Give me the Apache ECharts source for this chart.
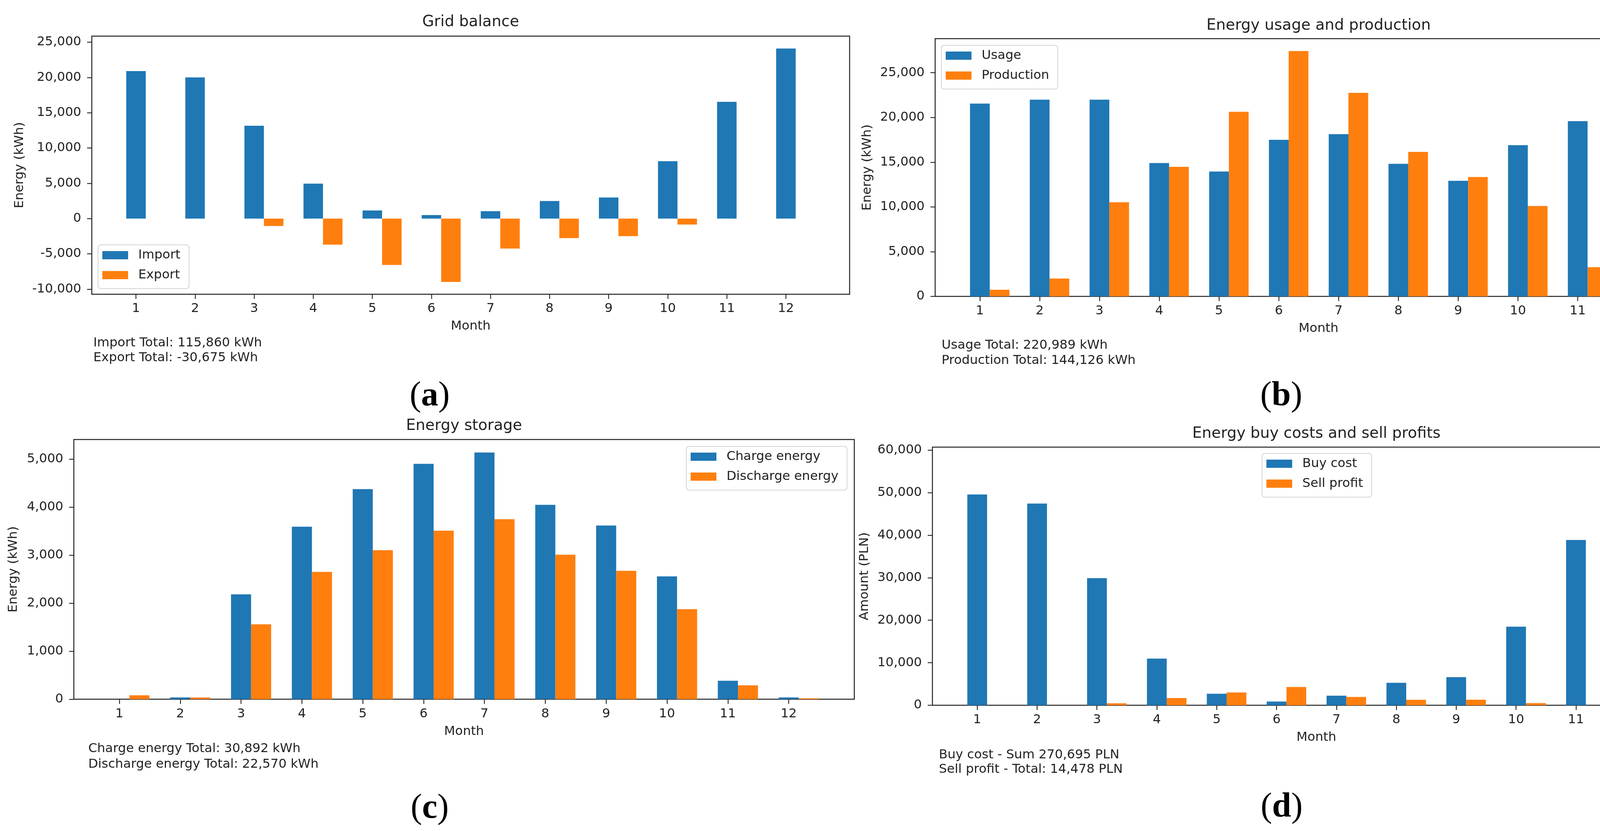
<!DOCTYPE html>
<html>
<head>
<meta charset="utf-8">
<script src="https://cdn.jsdelivr.net/npm/echarts@6/dist/echarts.min.js"></script>
<style>
html,body{margin:0;padding:0;background:#fff;}
#c{width:4393px;height:2128px;}
</style>
</head>
<body>
<div id="c"></div>
<script>
// ---- data ----
const months = [1, 2, 3, 4, 5, 6, 7, 8, 9, 10, 11, 12];
const importData = [20900, 20000, 13150, 4950, 1150, 500, 1050, 2480, 2980, 8130, 16550, 24100];
const exportData = [0, 0, -1050, -3700, -6580, -8980, -4250, -2770, -2500, -845, 0, 0];
const usageData = [21550, 21980, 21980, 14900, 13950, 17500, 18130, 14820, 12920, 16900, 19580, 26780];
const productionData = [740, 2000, 10520, 14480, 20630, 27420, 22750, 16150, 13340, 10100, 3260, 2730];
const chargeData = [0, 38, 2185, 3595, 4378, 4905, 5140, 4050, 3618, 2560, 385, 38];
const dischargeData = [82, 38, 1560, 2652, 3105, 3512, 3752, 3010, 2675, 1875, 289, 20];
const buyCostData = [49570, 47420, 29900, 10970, 2700, 880, 2260, 5290, 6610, 18470, 38860, 57765];
const sellProfitData = [0, 0, 450, 1700, 3000, 4300, 1950, 1280, 1300, 498, 0, 0];

const ticksA = [-10000, -5000, 0, 5000, 10000, 15000, 20000, 25000];
const ticksB = [0, 5000, 10000, 15000, 20000, 25000];
const ticksC = [0, 1000, 2000, 3000, 4000, 5000];
const ticksD = [0, 10000, 20000, 30000, 40000, 50000, 60000];

const titles = ['Grid balance', 'Energy usage and production', 'Energy storage', 'Energy buy costs and sell profits'];
const yNames = ['Energy (kWh)', 'Energy (kWh)', 'Energy (kWh)', 'Amount (PLN)'];
const notes = [
  ['Import Total: 115,860 kWh', 'Export Total: -30,675 kWh'],
  ['Usage Total: 220,989 kWh', 'Production Total: 144,126 kWh'],
  ['Charge energy Total: 30,892 kWh', 'Discharge energy Total: 22,570 kWh'],
  ['Buy cost - Sum 270,695 PLN', 'Sell profit - Total: 14,478 PLN']
];
const panelLetters = ['a', 'b', 'c', 'd'];

// ---- styling / layout ----
const BLUE = '#1f77b4', ORANGE = '#ff7f0e', INK = '#222';
const FONT = 'DejaVu Sans';
const FS = 32.5, TFS = 39;
const BW = '33%';

const panels = [
  {grid: {left: 235, top: 92.5, width: 1940, height: 661}, ymin: -10730, ymax: 25860, ticks: ticksA,
   s: [['Import', importData], ['Export', exportData]],
   legend: {left: 251, top: 627}, title: [1205, 57], yname: [50.5, 423], month: [1205, 835.5], note: [239, 879, 917], label: [1100, 1015]},
  {grid: {left: 2394, top: 99, width: 1963, height: 660}, ymin: 0, ymax: 28800, ticks: ticksB,
   s: [['Usage', usageData], ['Production', productionData]],
   legend: {left: 2410, top: 116}, title: [3375.5, 65.7], yname: [2221, 429], month: [3375.5, 842], note: [2410.5, 885, 923.5], label: [3280, 1015]},
  {grid: {left: 189, top: 1125.6, width: 1998, height: 665}, ymin: 0, ymax: 5410, ticks: ticksC,
   s: [['Charge energy', chargeData], ['Discharge energy', dischargeData]],
   legend: {left: 1757, top: 1143}, title: [1188, 1091], yname: [35, 1458], month: [1188, 1873.6], note: [226, 1918, 1957.5], label: [1100, 2071]},
  {grid: {left: 2387, top: 1145, width: 1966, height: 661}, ymin: 0, ymax: 60700, ticks: ticksD,
   s: [['Buy cost', buyCostData], ['Sell profit', sellProfitData]],
   legend: {left: 3231, top: 1161}, title: [3370, 1110.5], yname: [2214, 1475.7], month: [3370, 1888.8], note: [2403.4, 1933.5, 1971], label: [3281, 2068]}
];

const fmt = v => Number(v).toLocaleString('en-US');

const option = {
  animation: false,
  backgroundColor: '#fff',
  textStyle: {fontFamily: FONT},
  grid: [], xAxis: [], yAxis: [], series: [], legend: [], graphic: []
};

function txt(x, y, text, size, align, extra) {
  return Object.assign({
    type: 'text', x: x, y: y, silent: true,
    style: {text: text, font: size + 'px "' + FONT + '"', fill: INK,
      textAlign: align, textVerticalAlign: 'middle', align: align, verticalAlign: 'middle'}
  }, extra || {});
}

panels.forEach((p, i) => {
  option.grid.push(Object.assign({show: true, borderColor: INK, borderWidth: 2.5, backgroundColor: 'transparent', containLabel: false}, p.grid));
  option.xAxis.push({
    type: 'value', gridIndex: i, min: 0.252, max: 13.078, position: 'bottom',
    axisLine: {show: false, onZero: false}, splitLine: {show: false},
    axisTick: {show: true, length: 12, lineStyle: {color: INK, width: 2.2}, customValues: months},
    axisLabel: {show: true, customValues: months, margin: 21, color: INK, fontSize: FS, fontFamily: FONT, formatter: v => String(v)}
  });
  option.yAxis.push({
    type: 'value', gridIndex: i, min: p.ymin, max: p.ymax, position: 'left',
    axisLine: {show: false, onZero: false}, splitLine: {show: false},
    axisTick: {show: true, length: 12, lineStyle: {color: INK, width: 2.2}, customValues: p.ticks},
    axisLabel: {show: true, customValues: p.ticks, margin: 27, color: INK, fontSize: FS, fontFamily: FONT, formatter: fmt}
  });
  // spacer column so that first series is centred on the month tick, second sits right of it
  option.series.push({type: 'bar', name: '_spacer' + i, xAxisIndex: i, yAxisIndex: i, data: [], barWidth: BW, barGap: '0%', silent: true});
  const colors = [BLUE, ORANGE];
  p.s.forEach((s, k) => {
    option.series.push({
      type: 'bar', name: s[0], xAxisIndex: i, yAxisIndex: i,
      data: months.map((m, j) => [m, s[1][j]]),
      barWidth: BW, barGap: '0%',
      itemStyle: {color: colors[k]}
    });
  });
  option.legend.push({
    orient: 'vertical', left: p.legend.left, top: p.legend.top,
    data: p.s.map(s => ({name: s[0], icon: 'rect'})),
    itemWidth: 66, itemHeight: 21, itemGap: 18,
    padding: [10, 22, 18, 11],
    backgroundColor: '#fff', borderColor: '#d4d4d4', borderWidth: 2, borderRadius: 7,
    selectedMode: false,
    textStyle: {fontSize: FS, fontFamily: FONT, color: INK, padding: [0, 0, 0, 21]}
  });
  option.graphic.push(txt(p.title[0], p.title[1], titles[i], TFS, 'center'));
  option.graphic.push(txt(p.yname[0], p.yname[1], yNames[i], FS, 'center', {rotation: Math.PI / 2}));
  option.graphic.push(txt(p.month[0], p.month[1], 'Month', FS, 'center'));
  option.graphic.push(txt(p.note[0], p.note[1], notes[i][0], FS, 'left'));
  option.graphic.push(txt(p.note[0], p.note[2], notes[i][1], FS, 'left'));
  option.graphic.push({
    type: 'text', x: p.label[0], y: p.label[1], silent: true,
    style: {
      text: '{n|(}{b|' + panelLetters[i] + '}{n|)}',
      textAlign: 'center', textVerticalAlign: 'middle', align: 'center', verticalAlign: 'middle',
      rich: {
        n: {fontFamily: 'Liberation Serif', fontSize: 88, fill: '#000', color: '#000'},
        b: {fontFamily: 'Liberation Serif', fontSize: 88, fontWeight: 'bold', fill: '#000', color: '#000'}
      }
    }
  });
});

const chart = echarts.init(document.getElementById('c'), null, {renderer: 'canvas'});
chart.setOption(option);
</script>
</body>
</html>
